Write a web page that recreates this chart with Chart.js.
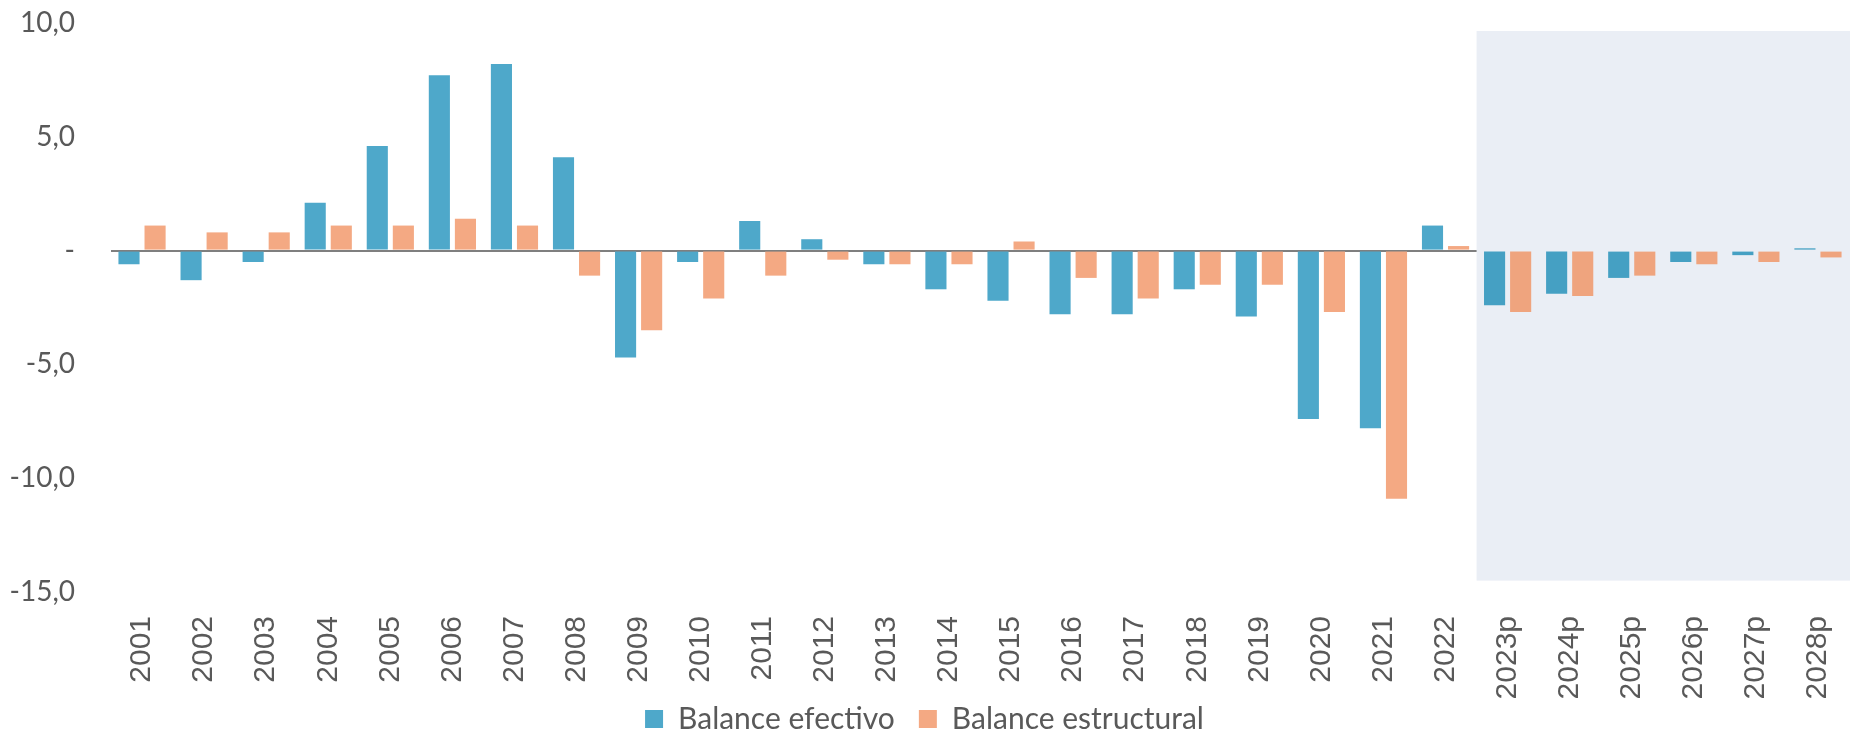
<!DOCTYPE html>
<html>
<head>
<meta charset="utf-8">
<script src="https://cdn.jsdelivr.net/npm/chart.js@4.4.1/dist/chart.umd.min.js"></script>
<style>
  html, body { margin: 0; padding: 0; background: #ffffff; }
  #wrap { width: 1854px; height: 736px; }
</style>
</head>
<body>
<div id="wrap"><canvas id="myChart" width="1854" height="736"></canvas></div>
<script>
var years = ["2001", "2002", "2003", "2004", "2005", "2006", "2007", "2008", "2009", "2010",
  "2011", "2012", "2013", "2014", "2015", "2016", "2017", "2018", "2019", "2020",
  "2021", "2022", "2023p", "2024p", "2025p", "2026p", "2027p", "2028p"];

var balanceEfectivo = [-0.6, -1.3, -0.5, 2.1, 4.6, 7.7, 8.2, 4.1, -4.7, -0.5,
  1.3, 0.5, -0.6, -1.7, -2.2, -2.8, -2.8, -1.7, -2.9, -7.4,
  -7.8, 1.1, -2.4, -1.9, -1.2, -0.5, -0.2, 0.1];

var balanceEstructural = [1.1, 0.8, 0.8, 1.1, 1.1, 1.4, 1.1, -1.1, -3.5, -2.1,
  -1.1, -0.4, -0.6, -0.6, 0.4, -1.2, -2.1, -1.5, -1.5, -2.7,
  -10.9, 0.2, -2.7, -2.0, -1.1, -0.6, -0.5, -0.3];

var yTicks = [10, 5, 0, -5, -10, -15];

// bars inside the forecast box look a little darker
var blueColors = years.map(function (y) { return y.indexOf("p") > 0 ? "#45A0C3" : "#4EA8CA"; });
var orangeColors = years.map(function (y) { return y.indexOf("p") > 0 ? "#EFA47E" : "#F4A983"; });

var forecastBox = {
  id: "forecastBox",
  beforeDatasetsDraw: function (chart) {
    var x = chart.scales.x, y = chart.scales.y, ctx = chart.ctx;
    var half = (x.getPixelForValue(1) - x.getPixelForValue(0)) / 2;
    var left = x.getPixelForValue(years.indexOf("2023p")) - half;
    var top = y.getPixelForValue(9.65);
    var bottom = y.getPixelForValue(-14.5);
    ctx.save();
    ctx.fillStyle = "#EAEEF5";
    ctx.fillRect(left, top, chart.chartArea.right - left + 1, bottom - top);
    ctx.restore();
  }
};

var canvas = document.getElementById("myChart");
var myChart = new Chart(canvas, {
  type: "bar",
  data: {
    labels: years,
    datasets: [
      {
        label: "Balance efectivo",
        data: balanceEfectivo,
        backgroundColor: blueColors,
        categoryPercentage: 0.84,
        barPercentage: 0.81,
      },
      {
        label: "Balance estructural",
        data: balanceEstructural,
        backgroundColor: orangeColors,
        categoryPercentage: 0.84,
        barPercentage: 0.81,
      },
    ],
  },
  options: {
    responsive: false,
    animation: false,
    layout: { padding: { top: 23, right: 5, left: 0, bottom: 0 } },
    plugins: {
      tooltip: { enabled: false },
      legend: {
        position: "bottom",
        maxHeight: 56,
        labels: {
          color: "#595959",
          font: { family: "Lato", size: 30, lineHeight: 1 },
          boxWidth: 18,
          boxHeight: 18,
          padding: 24,
          generateLabels: function (chart) {
            return chart.data.datasets.map(function (ds, i) {
              return {
                text: ds.label,
                fillStyle: i === 0 ? "#4EA8CA" : "#F4A983",
                strokeStyle: "transparent",
                lineWidth: 0,
                fontColor: "#595959",
                datasetIndex: i,
              };
            });
          },
        },
      },
    },
    scales: {
      x: {
        grid: { display: false, drawTicks: false },
        border: { display: false },
        ticks: {
          color: "#595959",
          font: { family: "Liberation Sans", size: 30 },
          minRotation: 90,
          maxRotation: 90,
          padding: 24,
        },
        afterFit: function (scale) {
          scale.height = 88;
          scale.paddingLeft = 0;
          scale.paddingRight = 0;
          // rotated labels run a bit into the legend band, don't clip them
          scale._computeLabelArea = function () {};
        },
      },
      y: {
        min: -15,
        max: 10,
        z: 1,
        border: { display: false },
        grid: {
          drawTicks: false,
          lineWidth: 2,
          color: function (c) { return c.tick && c.tick.value === 0 ? "#7F7F7F" : "rgba(0,0,0,0)"; },
        },
        afterBuildTicks: function (scale) {
          scale.ticks = yTicks.map(function (v) { return { value: v }; });
        },
        ticks: {
          color: "#595959",
          font: { family: "Lato", size: 28 },
          padding: 36,
          callback: function (v) { return v === 0 ? "-" : v.toFixed(1).replace(".", ","); },
        },
        afterFit: function (scale) {
          scale.width = 111;
          scale.paddingTop = 0;
          scale.paddingBottom = 0;
        },
      },
    },
  },
  plugins: [forecastBox],
});
</script>
</body>
</html>
